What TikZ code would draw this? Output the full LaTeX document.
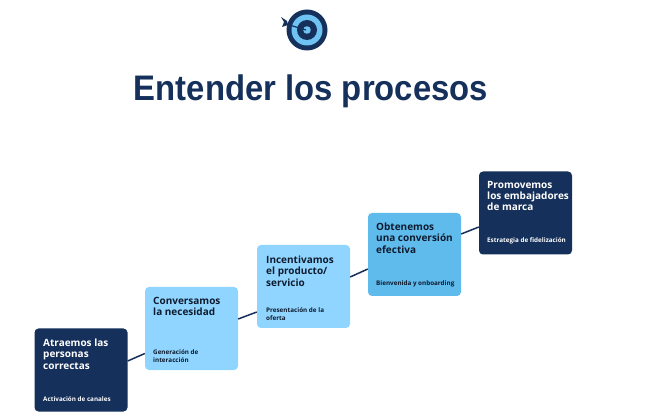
\documentclass[tikz,border=0pt]{standalone}
\usepackage{fontspec}
\setmainfont{Open Sans}
\newfontfamily\titlefont[FakeStretch=0.925]{Liberation Sans}
\definecolor{navy}{HTML}{15305A}
\definecolor{sky}{HTML}{90D5FF}
\definecolor{midblue}{HTML}{60BBED}
\definecolor{ink}{HTML}{0E1B2E}
\begin{document}
\begin{tikzpicture}[x=1pt,y=-1pt,
  card/.style={rounded corners=4pt,minimum width=93pt,minimum height=83pt,inner sep=0pt},
  head/.style={anchor=north west,inner sep=0pt,align=left,font=\fontsize{10}{11.2}\selectfont\bfseries},
  note/.style={anchor=north west,inner sep=0pt,align=left,font=\fontsize{6.3}{8.8}\selectfont\bfseries},
  link/.style={draw=navy,line width=1.5pt}]
 \useasboundingbox (0,0) rectangle (669,419);
 % target
 \fill[navy] (307,30) circle (20.5);
 \fill[midblue!70!sky] (307,30) circle (15.5);
 \fill[navy] (307,30) circle (10);
 \fill[midblue!70!sky] (307,30) circle (3.8);
 \draw[navy,line width=1.2pt] (286,24) -- (306,30);
 \fill[navy] (281,17) -- (287,21) -- (288,25) -- (282,27) -- (284,22) -- cycle;
 \node[inner sep=0pt,text=navy,font=\fontsize{35.5}{36}\selectfont\titlefont\bfseries] (title) at (311,91) {Entender los procesos};
 % cards
 \node[card,fill=navy] (box1) at (81,370) {};
 \node[card,fill=sky] (box2) at (191.5,328.5) {};
 \node[card,fill=sky] (box3) at (303.5,286.5) {};
 \node[card,fill=midblue] (box4) at (414.5,254.5) {};
 \node[card,fill=navy] (box5) at (525.5,213) {};
 \draw[link] ([yshift=9pt]box1.east) -- ([yshift=-25pt]box2.west);
 \draw[link] ([yshift=9.5pt]box2.east) -- ([yshift=-25.5pt]box3.west);
 \draw[link] ([yshift=9.5pt]box3.east) -- ([yshift=-14.5pt]box4.west);
 \draw[link] ([yshift=20.5pt]box4.east) -- ([yshift=-14pt]box5.west);
 % texts
 \node[head,text=white] (head1) at (43,339) {Atraemos las\\personas\\correctas};
 \node[note,text=white] (note1) at (43,396) {Activación de canales};
 \node[head,text=ink] (head2) at (153,297) {Conversamos\\la necesidad};
 \node[note,text=ink] (note2) at (153,349) {Generación de\\interacción};
 \node[head,text=ink] (head3) at (266,256) {Incentivamos\\el producto/\\servicio};
 \node[note,text=ink] (note3) at (266,307) {Presentación de la\\oferta};
 \node[head,text=ink] (head4) at (376,223) {Obtenemos\\una conversión\\efectiva};
 \node[note,text=ink] (note4) at (376,281) {Bienvenida y onboarding};
 \node[head,text=white] (head5) at (487,181) {Promovemos\\los embajadores\\de marca};
 \node[note,text=white] (note5) at (487,237) {Estrategia de  fidelización};
\end{tikzpicture}
\end{document}
